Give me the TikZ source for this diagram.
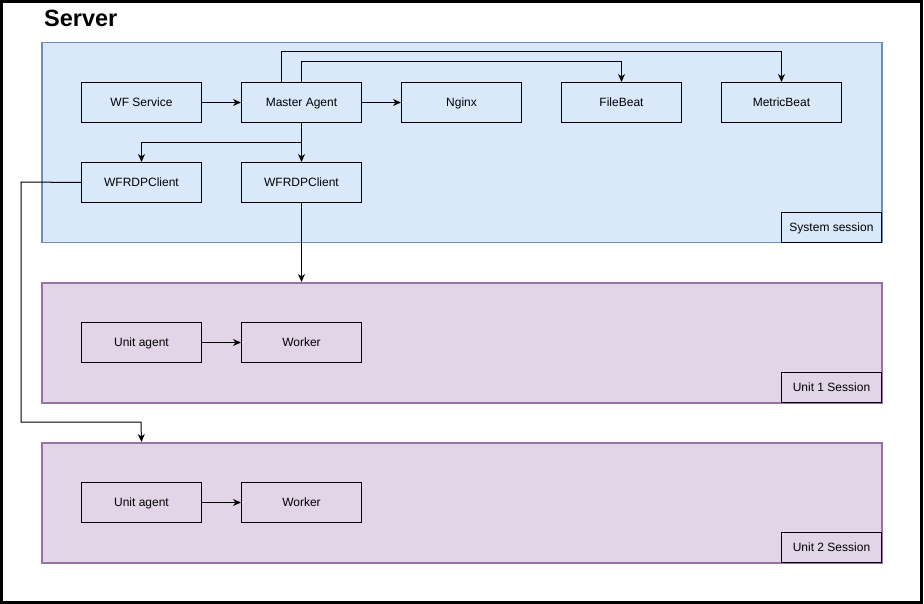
\documentclass[tikz,border=0pt]{standalone}
\usepackage{fontspec}
\setmainfont{Liberation Sans}
\usetikzlibrary{arrows.meta}
\definecolor{sysfill}{HTML}{DAE8FC}
\definecolor{sysdraw}{HTML}{6C8EBF}
\definecolor{unitfill}{HTML}{E1D5E7}
\definecolor{unitdraw}{HTML}{9673A6}
\begin{document}
\begin{tikzpicture}[x=1pt,y=-1pt,
  every node/.style={font=\fontsize{12}{14}\selectfont},
  comp/.style={draw=black, line width=1pt, minimum width=120pt, minimum height=40pt, inner sep=0pt, text height=8.6pt, text depth=0pt, anchor=north west},
  lab/.style={draw=black, line width=1pt, minimum width=100pt, minimum height=30pt, inner sep=0pt, text height=8.6pt, text depth=0pt, anchor=north west},
  sys/.style={draw=sysdraw, fill=sysfill, line width=1.5pt, minimum width=840pt, minimum height=200pt, inner sep=0pt, anchor=north west},
  unit/.style={draw=unitdraw, fill=unitfill, line width=1.5pt, minimum width=840pt, minimum height=120pt, inner sep=0pt, anchor=north west},
  conn/.style={line width=1pt, -{Stealth[length=8pt,width=7pt,inset=2.5pt]}},
  wire/.style={line width=1pt}]
\useasboundingbox (0,0) rectangle (924,604);
\draw[line width=3pt] (1.5,1.5) rectangle (921.5,602.5);
\node[anchor=west, inner sep=0pt, font=\fontsize{23.5}{27}\selectfont\bfseries] (title) at (44,18) {Server};
% containers
\node[sys] (syss) at (41,42) {};
\node[unit] (u1) at (41,282) {};
\node[unit] (u2) at (41,442) {};
% system session
\node[comp] (wfs) at (81,82) {WF Service};
\node[comp] (ma) at (241,82) {Master Agent};
\node[comp] (ngx) at (401,82) {Nginx};
\node[comp] (fb) at (561,82) {FileBeat};
\node[comp] (mb) at (721,82) {MetricBeat};
\node[comp] (rdp1) at (81,162) {WFRDPClient};
\node[comp] (rdp2) at (241,162) {WFRDPClient};
\node[lab] (syslab) at (781,212) {System session};
% unit 1
\node[comp] (ua1) at (81,322) {Unit agent};
\node[comp] (wk1) at (241,322) {Worker};
\node[lab] (u1lab) at (781,372) {Unit 1 Session};
% unit 2
\node[comp] (ua2) at (81,482) {Unit agent};
\node[comp] (wk2) at (241,482) {Worker};
\node[lab] (u2lab) at (781,532) {Unit 2 Session};
% coordinates
\coordinate (maA) at ([xshift=-20pt]ma.north);
\coordinate (maB) at (ma.north);
\coordinate (left) at (21,182);
% connectors
\draw[conn] (wfs) -- (ma);
\draw[conn] (ma) -- (ngx);
\draw[conn] (maA) -- ++(0,-30) -| (mb.north);
\draw[conn] (maB) -- ++(0,-20) -| (fb.north);
\draw[conn] (ma.south) -- (rdp2.north);
\draw[conn] (ma.south) -- ++(0,20) -| (rdp1.north);
\draw[conn] (rdp2.south) -- (rdp2.south |- u1.north);
\draw[conn] (rdp1.west) -- (left) |- (141,422) -- (rdp1.south |- u2.north);
\draw[conn] (ua1) -- (wk1);
\draw[conn] (ua2) -- (wk2);
\end{tikzpicture}
\end{document}
